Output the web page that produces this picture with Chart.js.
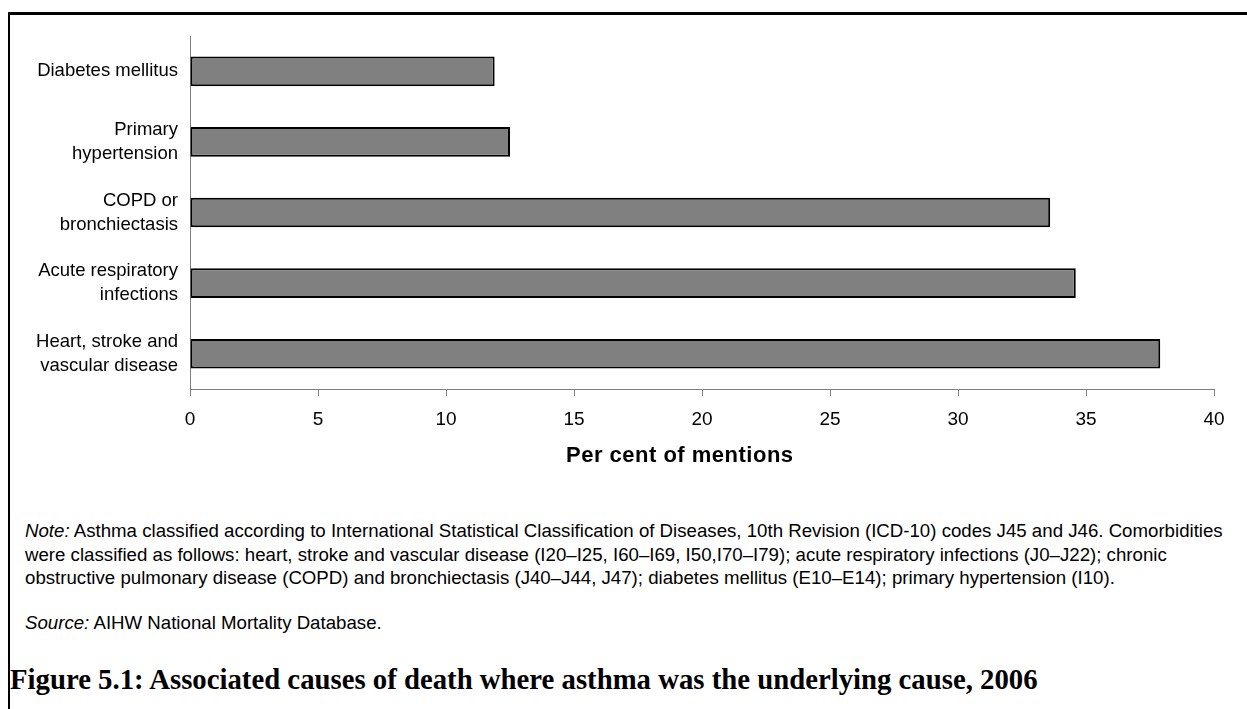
<!DOCTYPE html>
<html>
<head>
<meta charset="utf-8">
<script src="https://cdn.jsdelivr.net/npm/chart.js@4"></script>
<style>
  html, body { margin: 0; padding: 0; background: #fff; }
  body { width: 1247px; height: 709px; position: relative; overflow: hidden; font-family: "Liberation Sans", Arial, sans-serif; }
  #frame { position: absolute; left: 8px; top: 12px; width: 1300px; height: 800px; border-left: 2px solid #000; border-top: 3px solid #000; }
  #chartBox { position: absolute; left: 0; top: 0; width: 1247px; height: 480px; }
  #axisTitle { position: absolute; top: 442px; left: 566px; font-weight: bold; font-size: 22px; letter-spacing: 0.5px; color: #000; white-space: nowrap; }
  .note { position: absolute; left: 25px; font-size: 18.67px; line-height: 23.5px; color: #000; white-space: nowrap; }
  #note { top: 519px; }
  #source { top: 611px; }
  #figTitle { position: absolute; left: 10px; top: 664px; font-family: "Liberation Serif", serif; font-weight: bold; font-size: 28.75px; line-height: 30px; white-space: nowrap; }
</style>
</head>
<body>
<div id="frame"></div>
<div id="chartBox"><canvas id="chart"></canvas></div>
<div id="axisTitle">Per cent of mentions</div>
<div class="note" id="note"><i>Note:</i> Asthma classified according to International Statistical Classification of Diseases, 10th Revision (ICD-10) codes J45 and J46. Comorbidities<br>were classified as follows: heart, stroke and vascular disease (I20–I25, I60–I69, I50,I70–I79); acute respiratory infections (J0–J22); chronic<br>obstructive pulmonary disease (COPD) and bronchiectasis (J40–J44, J47); diabetes mellitus (E10–E14); primary hypertension (I10).</div>
<div class="note" id="source"><i>Source:</i> AIHW National Mortality Database.</div>
<div id="figTitle">Figure 5.1: Associated causes of death where asthma was the underlying cause, 2006</div>

<script>
const categories = [
  "Diabetes mellitus",
  ["Primary", "hypertension"],
  ["COPD or", "bronchiectasis"],
  ["Acute respiratory", "infections"],
  ["Heart, stroke and", "vascular disease"]
];
const perCentOfMentions = [11.9, 12.5, 33.6, 34.6, 37.9];
const xTicks = [0, 5, 10, 15, 20, 25, 30, 35, 40];

const axisGrey = "#808080";

const chart = new Chart(document.getElementById("chart"), {
  type: "bar",
  data: {
    labels: categories,
    datasets: [{
      data: perCentOfMentions,
      backgroundColor: "#808080",
      borderColor: "#000",
      borderWidth: 2,
      borderSkipped: false,
      categoryPercentage: 1,
      barPercentage: 0.42
    }]
  },
  options: {
    indexAxis: "y",
    responsive: true,
    maintainAspectRatio: false,
    animation: false,
    layout: { padding: { top: 32, right: 33, left: 0, bottom: 0 } },
    plugins: {
      legend: { display: false },
      tooltip: { enabled: false }
    },
    scales: {
      x: {
        min: xTicks[0],
        max: xTicks[xTicks.length - 1],
        afterBuildTicks: (scale) => { scale.ticks = xTicks.map(v => ({ value: v })); },
        afterFit: (scale) => { scale.height = 91; },
        grid: { drawOnChartArea: false, drawTicks: true, tickLength: 7, color: axisGrey },
        border: { color: axisGrey, width: 1 },
        ticks: { color: "#000", padding: 12, font: { family: "Liberation Sans", size: 19 } }
      },
      y: {
        afterFit: (scale) => { scale.width = 190; },
        grid: { drawOnChartArea: false, drawTicks: false },
        border: { color: axisGrey, width: 1 },
        ticks: { color: "#000", padding: 12, font: { family: "Liberation Sans", size: 18.5, lineHeight: 1.3 } }
      }
    }
  }
});
</script>
</body>
</html>
